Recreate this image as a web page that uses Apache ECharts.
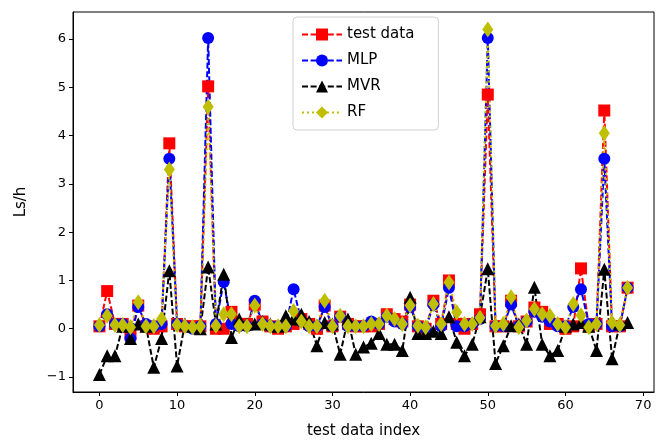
<!DOCTYPE html>
<html>
<head>
<meta charset="utf-8">
<script src="https://cdn.jsdelivr.net/npm/echarts@6/dist/echarts.min.js"></script>
<style>
  html, body { margin: 0; padding: 0; background: #fff; }
  #chart { width: 656px; height: 446px; }
</style>
</head>
<body>
<div id="chart"></div>
<script>
// values, index 0..68
const testData = [0.05, 0.78, 0.1, 0.1, -0.1, 0.48, 0.05, 0.0, 0.05, 3.84, 0.1, 0.05, 0.05, 0.05, 5.02, 0.0, 0.0, 0.35, 0.1, 0.1,
  0.5, 0.15, 0.05, 0.0, 0.05, 0.1, 0.2, 0.1, 0.0, 0.48, 0.05, 0.25, 0.1, 0.05, 0.05, 0.05, 0.1, 0.3, 0.2, 0.15,
  0.5, 0.05, 0.0, 0.58, 0.1, 1.0, 0.1, 0.0, 0.1, 0.3, 4.85, 0.05, 0.05, 0.58, 0.05, 0.15, 0.44, 0.35, 0.1, 0.1,
  0.0, 0.05, 1.25, 0.05, 0.1, 4.52, 0.05, 0.05, 0.85];
const mlp = [0.05, 0.3, 0.1, 0.1, -0.2, 0.45, 0.1, 0.05, 0.1, 3.52, 0.1, 0.05, 0.0, 0.05, 6.02, 0.1, 0.97, 0.1, 0.05, 0.05,
  0.58, 0.1, 0.05, 0.05, 0.05, 0.82, 0.15, 0.05, 0.05, 0.45, 0.05, 0.25, 0.05, 0.05, 0.05, 0.15, 0.1, 0.25, 0.15, 0.1,
  0.45, 0.05, 0.0, 0.5, 0.05, 0.85, 0.05, 0.05, 0.1, 0.2, 6.02, 0.05, 0.05, 0.5, 0.05, 0.15, 0.35, 0.25, 0.15, 0.05,
  0.05, 0.45, 0.82, 0.1, 0.1, 3.52, 0.05, 0.05, 0.85];
const mvr = [-0.95, -0.56, -0.56, 0.05, -0.2, 0.1, 0.05, -0.8, -0.2, 1.2, -0.77, 0.1, 0.05, 0.0, 1.28, 0.1, 1.13, -0.18, 0.2, 0.1,
  0.1, 0.15, 0.1, 0.05, 0.27, 0.2, 0.3, 0.15, -0.35, 0.13, 0.1, -0.53, 0.2, -0.53, -0.38, -0.3, -0.1, -0.32, -0.32, -0.45,
  0.65, -0.1, -0.1, -0.05, -0.1, 0.25, -0.28, -0.56, -0.32, 0.25, 1.24, -0.72, -0.35, 0.06, 0.1, -0.32, 0.86, -0.32, -0.56, -0.45,
  0.05, 0.1, 0.13, 0.05, -0.45, 1.23, -0.62, 0.1, 0.13];
const rf = [0.08, 0.27, 0.08, 0.08, 0.03, 0.55, 0.05, 0.05, 0.2, 3.3, 0.08, 0.05, 0.03, 0.05, 4.6, 0.06, 0.3, 0.3, 0.05, 0.05,
  0.48, 0.1, 0.05, 0.05, 0.05, 0.37, 0.15, 0.05, 0.05, 0.58, 0.05, 0.27, 0.05, 0.05, 0.05, 0.1, 0.1, 0.27, 0.2, 0.1,
  0.48, 0.06, 0.03, 0.51, 0.1, 0.96, 0.34, 0.1, 0.1, 0.23, 6.2, 0.06, 0.1, 0.65, 0.03, 0.17, 0.41, 0.3, 0.27, 0.1,
  0.03, 0.51, 0.28, 0.03, 0.1, 4.05, 0.13, 0.08, 0.85];

const xTicks = [0, 10, 20, 30, 40, 50, 60, 70];
const yTicks = [-1, 0, 1, 2, 3, 4, 5, 6];

const font = 'DejaVu Sans';
const pairs = arr => arr.map((v, i) => [i, v]);
const minus = v => String(v).replace('-', '\u2212');

function lineSeries(name, data, color, symbol, size, dash) {
  return {
    name: name,
    type: 'line',
    data: pairs(data),
    symbol: symbol,
    symbolSize: size,
    showSymbol: true,
    animation: false,
    itemStyle: { color: color },
    lineStyle: { color: color, width: 2, type: dash },
  };
}

const option = {
  animation: false,
  grid: {
    left: 73, right: 2, top: 12, bottom: 54,
    show: true, borderColor: '#000', borderWidth: 1,
  },
  legend: {
    orient: 'vertical',
    left: 293, top: 17,
    itemWidth: 40, itemHeight: 15, itemGap: 11,
    padding: [10, 24, 10, 8],
    borderColor: '#d0d0d0', borderWidth: 1, borderRadius: 4,
    backgroundColor: 'rgba(255,255,255,0.8)',
    textStyle: { fontFamily: font, fontSize: 15, color: '#000' },
    data: ['test data', 'MLP', 'MVR', 'RF'],
  },
  xAxis: {
    type: 'value',
    min: -3.4, max: 71.4,
    name: 'test data index',
    nameLocation: 'middle',
    nameGap: 32,
    nameTextStyle: { fontFamily: font, fontSize: 15, color: '#000' },
    splitLine: { show: false },
    axisLine: { show: true, onZero: false, lineStyle: { color: '#000' } },
    axisTick: { show: true, customValues: xTicks, length: 4, lineStyle: { color: '#000' } },
    axisLabel: { customValues: xTicks, fontFamily: font, fontSize: 13, color: '#000', margin: 7 },
  },
  yAxis: {
    type: 'value',
    min: -1.31, max: 6.56,
    name: 'Ls/h',
    nameLocation: 'middle',
    nameGap: 44,
    nameRotate: 90,
    nameTextStyle: { fontFamily: font, fontSize: 15, color: '#000' },
    splitLine: { show: false },
    axisLine: { show: true, onZero: false, lineStyle: { color: '#000' } },
    axisTick: { show: true, customValues: yTicks, length: 4, lineStyle: { color: '#000' } },
    axisLabel: { customValues: yTicks, fontFamily: font, fontSize: 13, color: '#000', margin: 7, formatter: minus },
  },
  series: [
    lineSeries('test data', testData, '#ff0000', 'rect', 12, [6, 2.6]),
    lineSeries('MLP', mlp, '#0000ff', 'circle', 12, [6, 2.6]),
    lineSeries('MVR', mvr, '#000000', 'triangle', 13, [6, 2.6]),
    lineSeries('RF', rf, '#bfbf00', 'diamond', [11, 16], [2, 3]),
  ],
};

const chart = echarts.init(document.getElementById('chart'), null, {
  width: 656,
  height: 446,
  renderer: 'canvas',
  devicePixelRatio: 1,
});
chart.setOption(option);
</script>
</body>
</html>
